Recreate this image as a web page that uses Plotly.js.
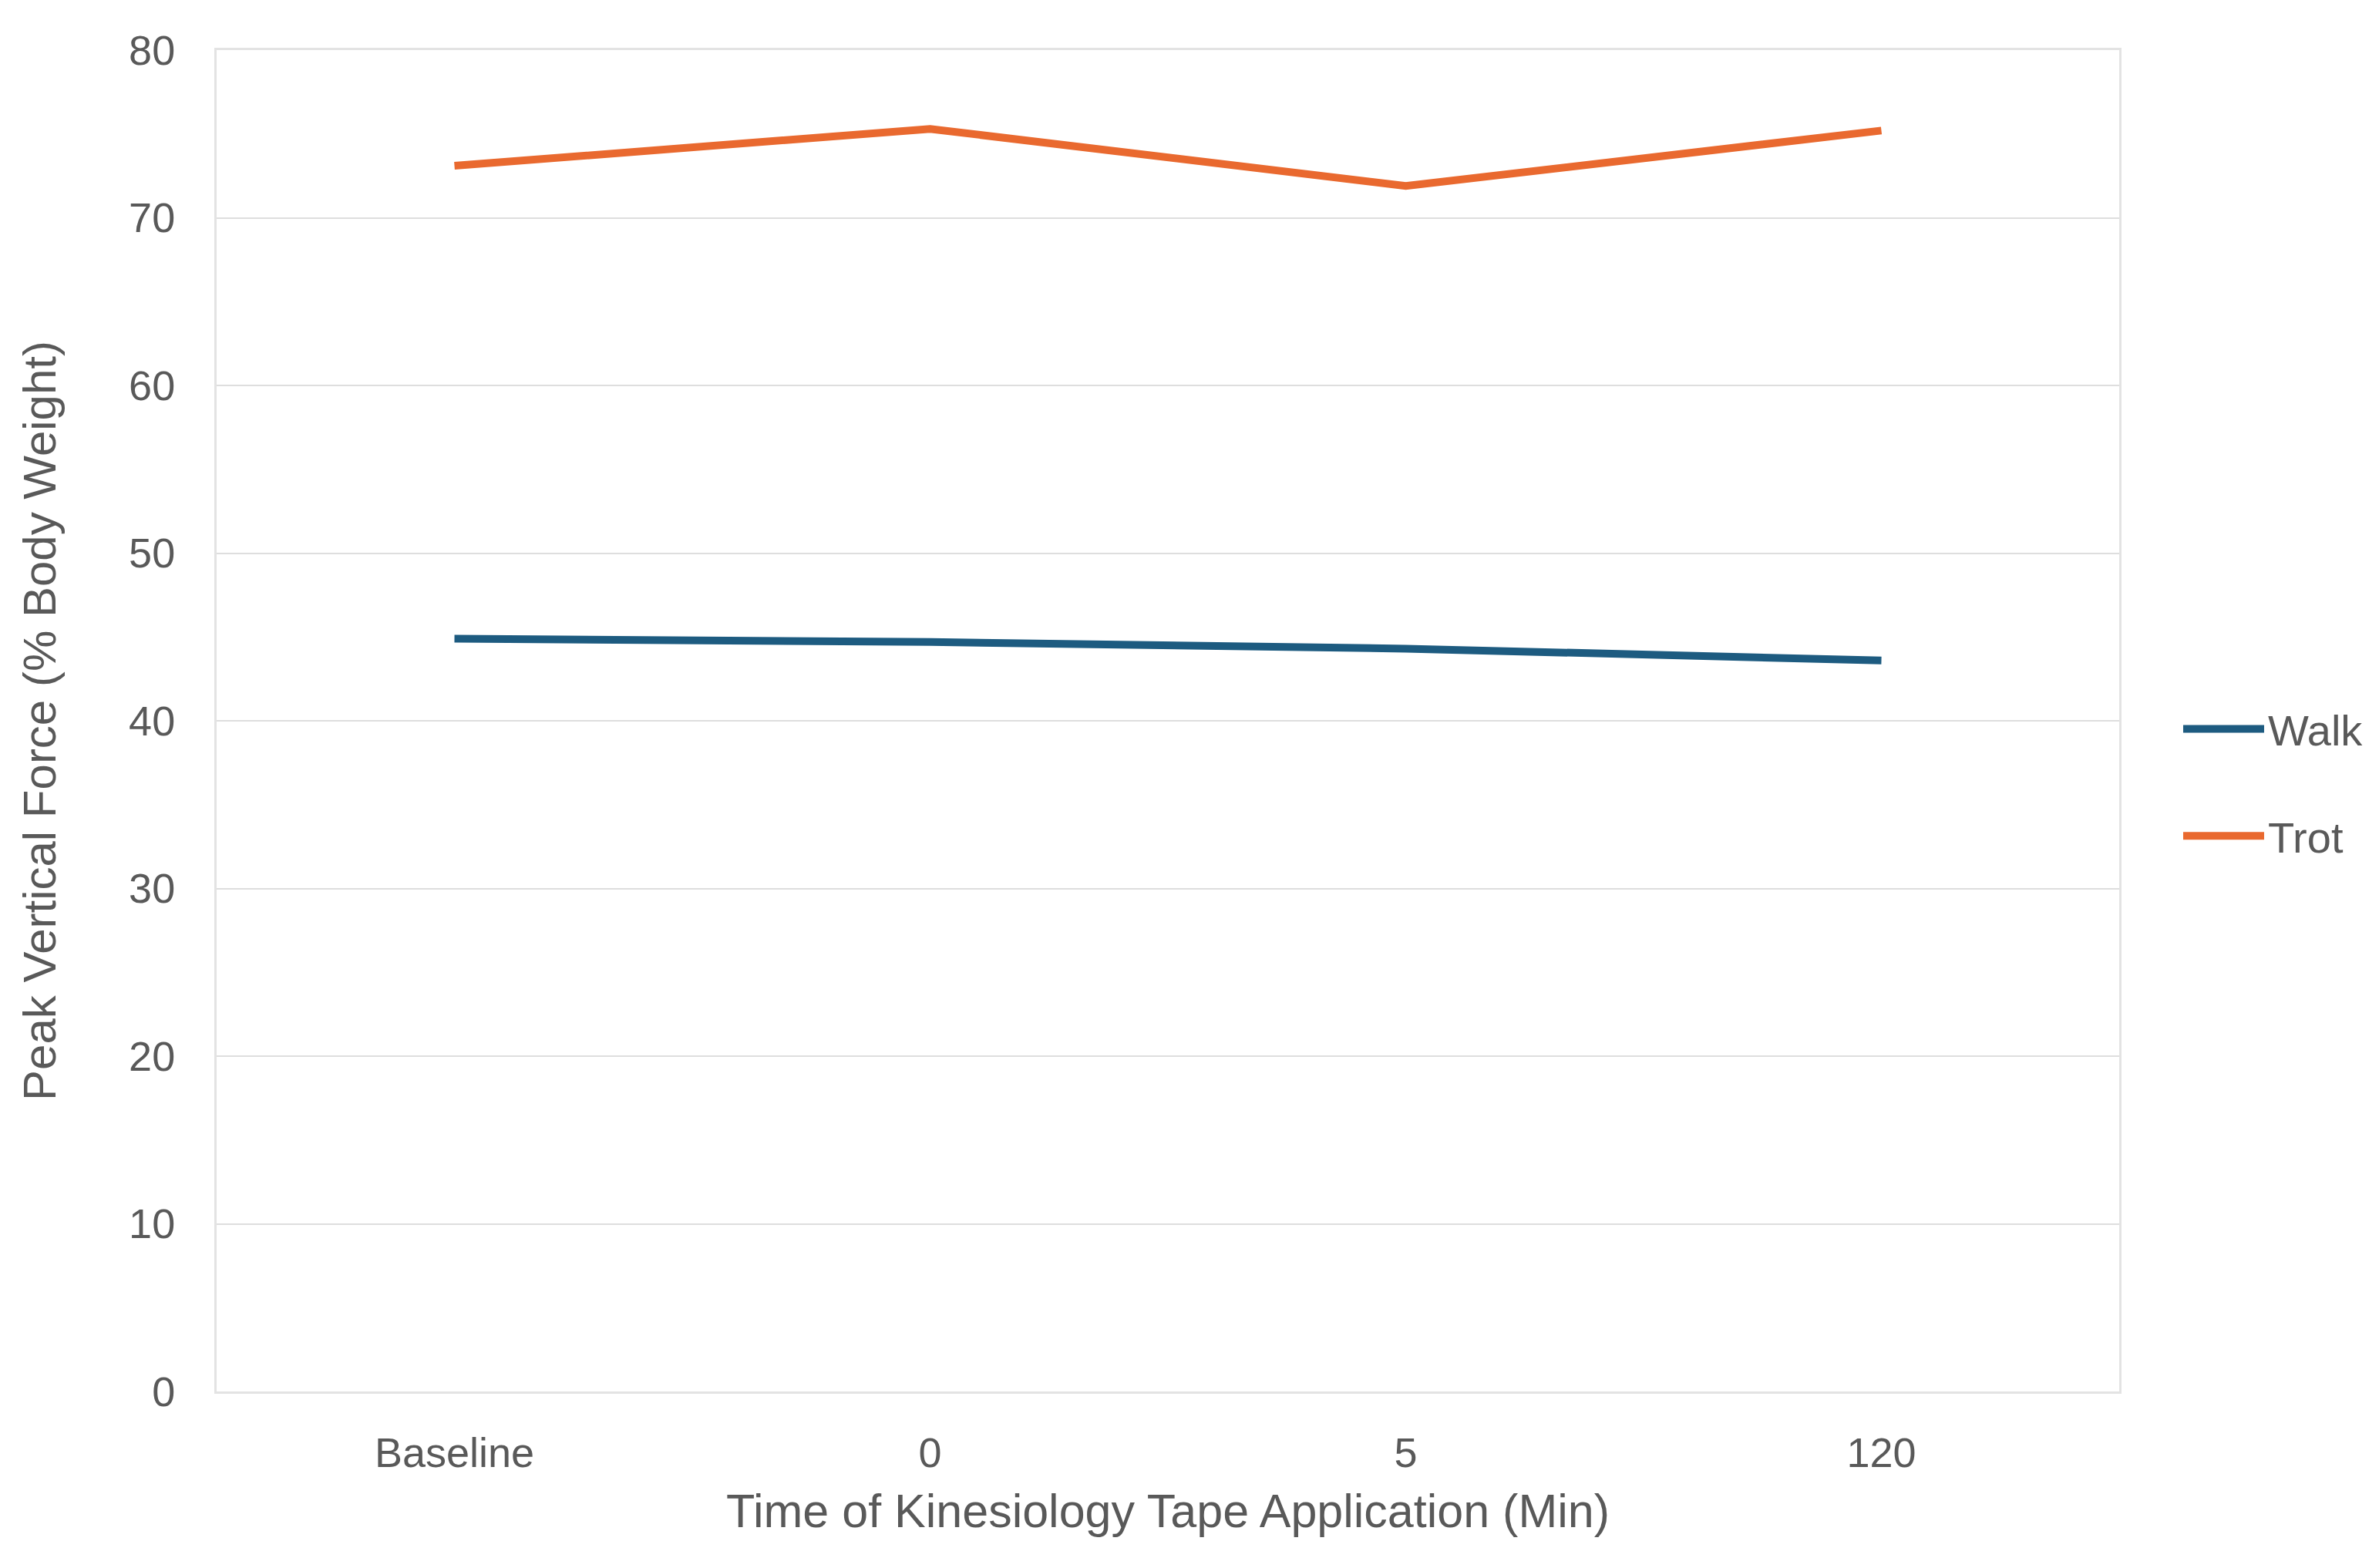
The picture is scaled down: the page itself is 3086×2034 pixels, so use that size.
<!DOCTYPE html>
<html>
<head>
<meta charset="utf-8">
<script src="https://cdn.plot.ly/plotly-3.0.1.min.js"></script>
<style>html,body{margin:0;padding:0;background:#fff;}#chart{width:3086px;height:2034px;}</style>
</head>
<body>
<div id="chart"></div>
<script>
const categories = ["Baseline", "0", "5", "120"];
const walkValues = [44.9, 44.7, 44.3, 43.6];
const trotValues = [73.1, 75.3, 71.9, 75.2];
const yTickValues = [0, 10, 20, 30, 40, 50, 60, 70, 80];

const font = "Liberation Sans, Arial, sans-serif";
const textColor = "#595959";

const traces = [
  {x: categories, y: walkValues, name: "Walk", legendgroup: "walk", type: "scatter", mode: "lines",
   line: {color: "#1d5b80", width: 10}},
  {x: categories, y: trotValues, name: "Trot", legendgroup: "trot", type: "scatter", mode: "lines",
   line: {color: "#e9692f", width: 10}}
];

const layout = {
  width: 3086, height: 2034,
  paper_bgcolor: "#ffffff", plot_bgcolor: "#ffffff",
  margin: {l: 281, r: 337, t: 65, b: 229},
  font: {family: font, color: textColor, size: 54},
  showlegend: true,
  legend: {x: 1.0316, xanchor: "left", y: 0.454, yanchor: "middle",
           font: {family: font, size: 56, color: textColor},
           tracegroupgap: 63, itemwidth: 105, bgcolor: "rgba(0,0,0,0)"},
  xaxis: {
    type: "category", range: [-0.5, 3.5],
    showgrid: false, zeroline: false,
    showline: true, linecolor: "#e3e3e3", linewidth: 3, mirror: true,
    ticks: "", ticklabelstandoff: 30,
    tickfont: {family: font, size: 54, color: textColor},
    title: {text: "Time of Kinesiology Tape Application (Min)", standoff: 26,
            font: {family: font, size: 61, color: textColor}}
  },
  yaxis: {
    range: [0, 80], tickvals: yTickValues,
    showgrid: true, gridcolor: "#dedede", gridwidth: 2,
    zeroline: false, showline: true, linecolor: "#e3e3e3", linewidth: 3, mirror: true,
    ticks: "", ticklabelstandoff: 40,
    tickfont: {family: font, size: 54, color: textColor},
    title: {text: "Peak Vertical Force (% Body Weight)", standoff: 76,
            font: {family: font, size: 60, color: textColor}}
  }
};

Plotly.newPlot("chart", traces, layout, {displayModeBar: false, staticPlot: true});
</script>
</body>
</html>
